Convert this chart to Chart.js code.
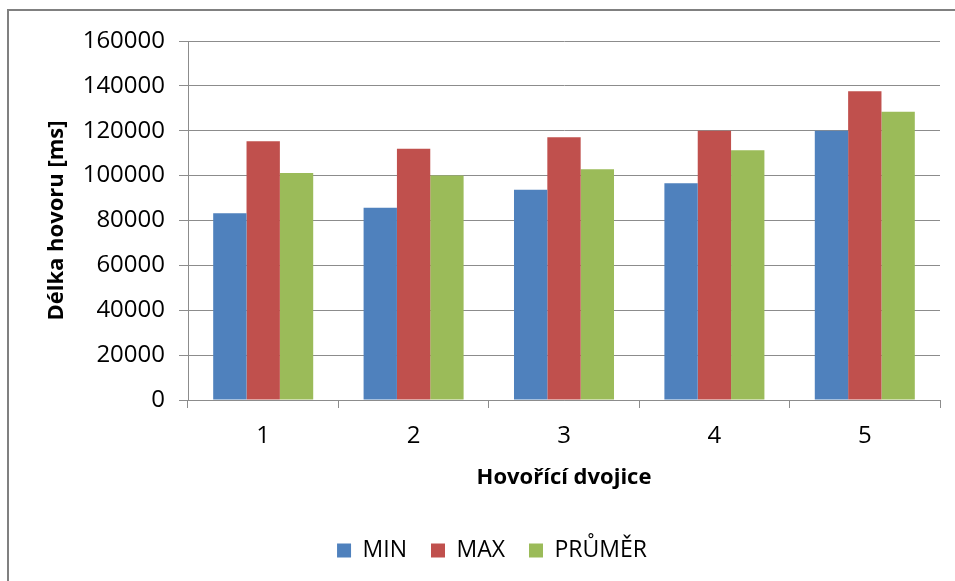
<!DOCTYPE html>
<html>
<head>
<meta charset="utf-8">
<script src="https://cdn.jsdelivr.net/npm/chart.js@4/dist/chart.umd.min.js"></script>
<style>
	body { margin: 0; background: #fff; }
	#wrap { position: relative; width: 955px; height: 581px; }
</style>
</head>
<body>
<div id="wrap"><canvas id="graf_canvas" width="955" height="581"></canvas></div>
<script>
//Data
const dvojice = ['1', '2', '3', '4', '5']
const hodnotyMin = [83200, 85700, 93700, 96600, 120000]
const hodnotyMax = [115300, 112000, 117100, 120000, 137600]
const hodnotyPrumer = [101200, 100100, 102800, 111300, 128500]
const osaYMax = 160000
const osaYKrok = 20000

const pismo = "'Open Sans', 'Liberation Sans', sans-serif"
const sedaMrizka = 'rgb(140, 140, 140)'

//Ramecek kolem grafu
const ramecek = {
	id: 'ramecek',
	beforeDraw: (chart) => {
		let ctx = chart.ctx
		ctx.save()
		ctx.strokeStyle = 'rgb(128, 128, 128)'
		ctx.lineWidth = 2
		ctx.beginPath()
		ctx.moveTo(955, 10)
		ctx.lineTo(8, 10)
		ctx.lineTo(8, 581)
		ctx.stroke()
		ctx.restore()
	}
}

Chart.defaults.font.family = pismo
Chart.defaults.color = '#000'

let grafCanvas = document.getElementById('graf_canvas')
let barChart = new Chart(grafCanvas, {
	type: 'bar',
	data: {
		labels: dvojice,
		datasets: [
			{
				label: 'MIN',
				backgroundColor: 'rgb(79, 129, 189)',
				data: hodnotyMin
			},
			{
				label: 'MAX',
				backgroundColor: 'rgb(192, 80, 77)',
				data: hodnotyMax
			},
			{
				label: 'PRŮMĚR',
				backgroundColor: 'rgb(155, 187, 89)',
				data: hodnotyPrumer
			}
		]
	},
	options: {
		responsive: false,
		animation: false,
		layout: { padding: { left: 44, top: 41, right: 15, bottom: 9 } },
		datasets: {
			bar: { barPercentage: 1, categoryPercentage: 0.665, borderWidth: 0 }
		},
		plugins: {
			legend: {
				position: 'bottom',
				labels: {
					boxWidth: 14,
					boxHeight: 14,
					padding: 24,
					font: { size: 23 }
				}
			},
			tooltip: { enabled: false }
		},
		scales: {
			x: {
				grid: {
					drawOnChartArea: false,
					drawTicks: true,
					tickLength: 8,
					color: sedaMrizka
				},
				border: { color: sedaMrizka },
				ticks: { padding: 14, font: { size: 24 } },
				title: {
					display: true,
					text: 'Hovořící dvojice',
					font: { size: 22, weight: 'bold' },
					padding: { top: 0, bottom: 24 }
				},
				afterFit: (scale) => { scale.height = 115 }
			},
			y: {
				min: 0,
				max: osaYMax,
				grid: { color: sedaMrizka, tickLength: 9 },
				border: { color: sedaMrizka },
				ticks: {
					stepSize: osaYKrok,
					padding: 14,
					font: { size: 24 },
					callback: (value) => String(value)
				},
				title: {
					display: true,
					text: 'Délka hovoru [ms]',
					font: { size: 22, weight: 'bold' },
					padding: { top: 0, bottom: 0 }
				},
				afterFit: (scale) => { scale.width = 188 - 44 }
			}
		}
	},
	plugins: [ramecek]
})
</script>
</body>
</html>
